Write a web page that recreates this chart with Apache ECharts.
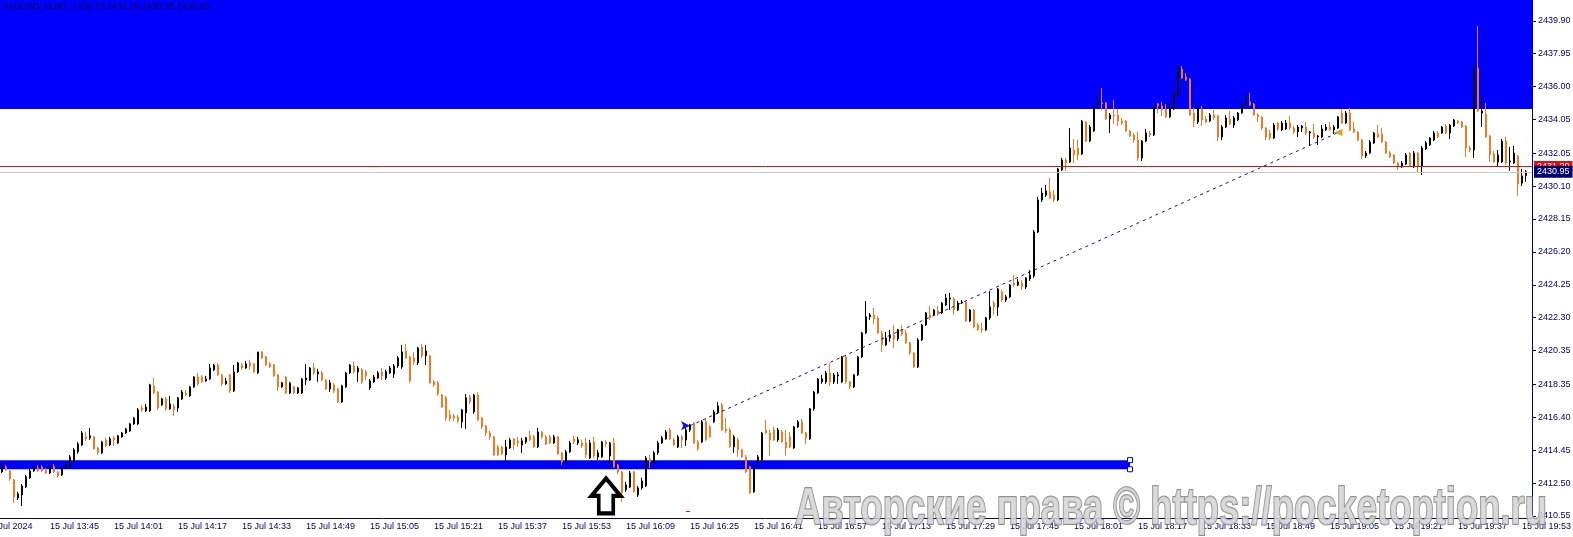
<!DOCTYPE html>
<html><head><meta charset="utf-8">
<script src="https://cdn.jsdelivr.net/npm/echarts@6/dist/echarts.min.js"></script>
<style>html,body{margin:0;padding:0;background:#fff;}#c{width:1573px;height:537px;}</style>
</head><body><div id="c"></div>
<script>
// ---- data (XAUUSD_m, M1, 15 Jul 2024) ----
const firstMinute = '13:29';       // first category (partly off-screen)
const lastMinute = '19:55';
const firstCandle = '13:33';
const dateLabel = '15 Jul 2024';
const dayPrefix = '15 Jul ';
const titleText = 'XAUUSD_m,M1  2430.73 2431.05 2430.35 2430.95';

const opens = [
2413.16,2413.46,2413.22,2412.69,2411.62,2411.80,2412.27,2412.81,2413.22,2413.40,
2413.46,2413.28,2413.10,2413.51,2413.16,2412.98,2413.40,2413.46,2413.81,2414.35,
2414.76,2415.24,2415.18,2415.24,2414.58,2414.29,2415.06,2414.76,2415.18,2414.88,
2415.24,2415.47,2415.59,2416.01,2416.01,2416.95,2416.78,2416.78,2418.26,2417.90,
2417.13,2417.49,2416.90,2417.07,2416.95,2417.49,2417.84,2417.67,2418.20,2418.79,
2418.79,2418.55,2418.67,2419.21,2419.50,2418.91,2418.38,2418.91,2417.96,2419.09,
2419.50,2419.32,2419.62,2419.56,2419.03,2420.27,2419.98,2419.56,2419.50,2418.91,
2418.20,2418.79,2417.84,2418.20,2417.84,2417.84,2418.61,2418.61,2419.32,2418.97,
2419.03,2418.61,2418.08,2418.32,2418.08,2417.31,2418.20,2419.03,2419.44,2419.09,
2419.21,2419.09,2418.14,2418.50,2418.73,2419.09,2418.73,2419.03,2418.97,2419.44,
2419.38,2420.33,2419.98,2419.92,2419.62,2420.57,2420.04,2420.04,2418.50,2418.44,
2417.72,2417.55,2416.54,2416.48,2416.42,2416.13,2416.66,2417.61,2416.72,2417.72,
2416.36,2415.89,2415.47,2415.24,2414.64,2414.64,2414.17,2414.58,2415.12,2415.00,
2414.76,2414.94,2415.30,2415.24,2414.64,2415.53,2415.24,2415.24,2414.88,2415.24,
2414.29,2413.75,2414.35,2415.12,2414.88,2414.88,2414.88,2413.99,2414.94,2414.05,
2414.05,2414.94,2414.11,2414.88,2413.57,2413.16,2412.10,2412.27,2413.16,2411.80,
2412.21,2412.33,2413.93,2413.69,2414.29,2414.88,2415.12,2415.65,2415.06,2414.64,
2415.24,2415.06,2415.65,2416.07,2414.94,2414.94,2416.13,2415.83,2416.13,2416.66,
2417.13,2415.71,2415.65,2414.64,2415.06,2414.47,2414.05,2413.46,2411.98,2413.69,
2413.87,2415.65,2415.47,2415.65,2415.06,2415.53,2414.94,2415.24,2414.58,2415.83,
2416.13,2415.47,2415.12,2416.90,2417.84,2418.50,2418.50,2419.03,2418.50,2418.85,
2418.50,2419.98,2418.50,2418.20,2418.91,2419.98,2421.40,2422.35,2422.47,2422.29,
2421.40,2420.69,2421.10,2421.28,2421.04,2421.58,2421.40,2420.81,2420.21,2419.38,
2420.98,2421.87,2422.47,2422.47,2422.70,2422.58,2423.06,2423.41,2423.41,2422.76,
2423.17,2423.23,2422.11,2422.76,2421.87,2421.64,2421.58,2422.29,2423.17,2422.94,
2423.83,2423.35,2423.53,2424.36,2424.24,2424.36,2424.12,2424.60,2424.77,2427.38,
2429.28,2429.57,2429.75,2429.57,2429.28,2431.06,2431.65,2431.53,2432.24,2432.36,
2432.00,2433.90,2432.77,2433.37,2434.91,2435.03,2435.03,2434.08,2434.32,2434.32,
2433.96,2433.96,2433.37,2433.13,2432.83,2431.77,2432.77,2433.25,2433.13,2434.97,
2434.85,2434.67,2434.20,2434.67,2435.50,2437.04,2436.57,2436.45,2434.43,2433.90,
2434.67,2434.08,2433.96,2434.32,2434.26,2433.01,2433.60,2434.08,2433.72,2434.02,
2434.43,2434.91,2435.09,2434.97,2434.32,2434.20,2433.54,2433.25,2432.95,2433.84,
2433.43,2433.49,2433.84,2433.54,2433.31,2433.54,2433.60,2433.25,2433.25,2433.01,
2433.01,2433.43,2433.60,2433.43,2433.54,2434.43,2433.84,2434.43,2433.49,2433.31,
2432.83,2431.89,2432.06,2432.66,2433.19,2433.19,2432.71,2432.06,2431.95,2431.47,
2431.24,2431.41,2432.06,2431.24,2432.06,2431.24,2432.30,2432.54,2432.83,2433.25,
2433.25,2433.66,2433.25,2433.66,2433.96,2433.90,2433.66,2432.36,2432.24,2437.10,
2434.43,2434.38,2433.07,2432.00,2431.53,2431.53,2432.77,2431.53,2431.47,2431.89,
2430.28,2430.73];

const closes = [
2413.46,2413.28,2412.75,2411.68,2411.86,2412.33,2412.87,2413.22,2413.46,2413.22,
2413.22,2413.10,2413.51,2413.16,2412.92,2413.46,2413.57,2414.05,2414.47,2414.82,
2415.47,2415.12,2415.30,2414.53,2414.29,2414.94,2414.70,2415.12,2415.06,2415.30,
2415.47,2415.71,2416.01,2416.36,2416.84,2416.84,2417.01,2418.32,2417.84,2416.95,
2417.49,2416.90,2417.19,2416.84,2417.55,2417.90,2417.72,2418.20,2418.79,2418.38,
2418.50,2418.67,2419.32,2419.50,2418.91,2418.38,2418.55,2417.96,2419.09,2419.62,
2419.32,2419.56,2419.44,2419.09,2420.27,2419.92,2419.50,2419.38,2418.85,2418.20,
2418.44,2417.84,2418.44,2417.84,2418.14,2418.67,2418.73,2419.32,2419.03,2419.09,
2418.61,2418.08,2418.44,2417.96,2417.31,2418.26,2419.03,2419.50,2419.09,2419.32,
2418.50,2418.85,2418.55,2418.79,2419.03,2418.85,2419.09,2419.32,2419.44,2419.92,
2420.27,2419.92,2418.55,2419.68,2420.51,2420.04,2420.33,2418.44,2418.32,2417.78,
2417.01,2416.36,2416.30,2416.36,2416.18,2416.84,2417.55,2417.31,2417.72,2416.24,
2415.83,2415.47,2415.24,2414.17,2414.17,2414.23,2414.64,2415.06,2414.76,2414.88,
2415.00,2415.18,2415.06,2414.64,2415.53,2415.24,2414.82,2414.88,2415.24,2414.23,
2413.75,2414.35,2414.88,2414.94,2415.06,2414.70,2414.17,2414.88,2414.11,2414.29,
2414.94,2414.82,2414.88,2413.46,2413.16,2411.92,2412.39,2413.10,2411.98,2412.21,
2412.63,2413.99,2413.75,2414.29,2414.88,2415.18,2415.53,2415.12,2414.76,2415.24,
2415.06,2415.65,2415.95,2414.88,2414.53,2416.13,2415.06,2415.24,2416.72,2417.07,
2415.65,2415.59,2414.64,2415.24,2414.47,2414.05,2413.16,2411.92,2413.46,2414.05,
2415.47,2415.47,2415.06,2415.06,2415.65,2414.94,2414.58,2414.64,2415.83,2416.13,
2415.47,2415.18,2416.90,2417.90,2418.67,2418.67,2419.03,2418.50,2418.91,2418.91,
2419.98,2418.50,2418.20,2418.91,2419.98,2421.40,2422.35,2422.47,2422.23,2421.40,
2420.69,2421.10,2421.28,2421.04,2421.58,2421.34,2420.81,2420.21,2419.38,2420.98,
2421.87,2422.58,2422.29,2422.76,2422.52,2423.17,2423.47,2423.47,2422.76,2423.17,
2423.23,2422.11,2422.76,2421.75,2421.58,2421.58,2422.29,2422.94,2422.94,2424.00,
2423.35,2423.53,2424.24,2424.24,2424.42,2424.12,2424.66,2424.83,2427.38,2429.28,
2429.69,2429.81,2429.40,2429.28,2431.12,2431.65,2431.47,2432.36,2431.95,2431.95,
2433.96,2432.77,2433.60,2434.79,2434.97,2434.97,2434.08,2434.32,2434.26,2433.96,
2433.84,2433.37,2433.07,2432.83,2431.77,2432.77,2433.25,2433.13,2434.85,2434.85,
2434.61,2434.20,2434.73,2435.62,2437.04,2436.51,2436.39,2434.32,2433.96,2434.73,
2434.02,2433.90,2434.32,2434.14,2433.01,2433.60,2434.14,2433.78,2434.14,2434.43,
2434.91,2435.09,2434.91,2434.32,2434.20,2433.54,2433.01,2432.95,2433.72,2433.49,
2433.84,2433.84,2433.54,2433.31,2433.60,2433.66,2433.25,2433.31,2433.01,2433.07,
2433.49,2433.60,2433.43,2433.60,2434.20,2433.84,2434.43,2433.43,2433.31,2432.83,
2431.89,2432.06,2432.71,2433.25,2433.01,2432.71,2432.06,2431.83,2431.47,2431.24,
2431.47,2431.95,2431.30,2432.06,2431.24,2432.36,2432.66,2432.95,2433.25,2433.01,
2433.60,2433.25,2433.72,2434.02,2433.84,2433.60,2432.36,2432.24,2436.98,2434.55,
2434.55,2433.01,2431.95,2431.53,2431.95,2432.77,2431.47,2431.59,2432.06,2430.23,
2430.70,2430.95];

const lows = [
2413.10,2413.22,2412.63,2411.32,2411.50,2411.14,2412.21,2412.75,2413.16,2413.16,
2413.16,2413.04,2413.04,2413.10,2412.81,2412.92,2413.34,2413.40,2413.75,2414.23,
2414.70,2415.00,2415.06,2414.47,2414.17,2414.23,2414.64,2414.70,2414.70,2414.82,
2415.18,2415.41,2415.53,2415.95,2415.95,2416.72,2416.72,2416.72,2417.78,2416.84,
2417.07,2416.78,2416.84,2416.48,2416.72,2417.43,2417.67,2417.61,2418.14,2418.26,
2418.44,2418.50,2418.61,2419.15,2418.85,2418.26,2418.32,2417.84,2417.90,2419.03,
2419.21,2419.27,2419.21,2419.03,2418.97,2419.86,2419.44,2419.32,2418.79,2417.96,
2418.14,2417.78,2417.78,2417.78,2417.78,2417.78,2418.32,2418.55,2418.91,2418.50,
2418.55,2418.02,2417.90,2417.84,2417.25,2417.25,2418.14,2418.97,2418.97,2418.50,
2418.38,2418.61,2418.02,2418.44,2418.67,2418.61,2418.61,2418.97,2418.73,2419.32,
2419.27,2419.86,2418.44,2419.50,2419.50,2419.92,2419.50,2418.38,2418.20,2417.67,
2416.95,2416.18,2416.18,2416.18,2416.07,2415.77,2415.71,2417.19,2416.60,2416.18,
2415.71,2415.30,2415.06,2414.11,2414.11,2414.17,2413.81,2414.53,2414.47,2414.64,
2414.29,2414.82,2415.00,2414.58,2414.58,2415.12,2414.76,2414.82,2414.82,2414.17,
2413.57,2413.69,2414.29,2414.82,2414.76,2414.58,2413.99,2413.93,2413.99,2413.87,
2413.99,2414.64,2413.63,2413.40,2413.04,2411.38,2411.98,2412.21,2411.92,2411.68,
2412.10,2412.27,2413.40,2413.57,2414.17,2414.82,2415.06,2415.06,2414.70,2414.58,
2414.58,2414.70,2415.53,2414.82,2414.41,2414.88,2415.00,2415.18,2416.07,2416.60,
2415.59,2415.47,2414.58,2414.29,2414.05,2413.99,2413.10,2411.86,2411.92,2413.51,
2413.81,2415.41,2414.11,2415.00,2414.94,2414.88,2414.11,2414.58,2414.53,2415.77,
2415.41,2414.82,2415.06,2416.78,2417.78,2418.38,2418.38,2418.26,2418.38,2418.38,
2418.44,2418.38,2418.08,2418.14,2418.85,2419.92,2421.34,2422.17,2421.93,2421.34,
2420.27,2420.63,2420.87,2420.51,2420.92,2421.22,2420.75,2420.10,2419.32,2419.32,
2420.92,2421.81,2422.17,2422.41,2422.41,2422.52,2423.00,2422.76,2422.47,2422.70,
2423.12,2422.05,2422.05,2421.69,2421.52,2421.40,2421.52,2422.17,2422.47,2422.41,
2423.23,2423.23,2423.47,2424.12,2424.18,2423.95,2424.00,2424.48,2424.66,2427.32,
2429.16,2429.46,2429.34,2429.16,2429.22,2431.00,2431.00,2431.47,2431.47,2431.65,
2431.95,2432.71,2432.71,2433.31,2434.73,2434.61,2434.02,2433.25,2433.78,2433.66,
2433.72,2433.31,2433.01,2432.66,2431.59,2431.59,2432.71,2433.01,2433.07,2434.43,
2434.26,2434.14,2434.14,2434.61,2435.44,2436.45,2436.33,2434.26,2433.60,2433.78,
2433.66,2433.84,2433.90,2434.02,2432.77,2432.83,2433.54,2433.72,2433.54,2433.96,
2434.38,2434.79,2434.85,2434.26,2433.90,2433.43,2432.83,2432.83,2432.89,2433.37,
2433.37,2433.43,2433.43,2433.19,2433.01,2433.31,2433.13,2432.48,2432.89,2432.54,
2432.95,2433.37,2433.37,2433.19,2433.49,2433.78,2433.78,2433.37,2433.25,2432.77,
2431.71,2431.77,2432.00,2432.60,2432.95,2432.66,2432.00,2431.77,2431.41,2431.06,
2431.18,2431.36,2431.24,2431.18,2430.88,2430.76,2432.24,2432.48,2432.77,2432.95,
2433.19,2433.19,2432.89,2433.60,2433.78,2433.54,2431.83,2432.12,2431.77,2434.49,
2433.60,2432.95,2431.53,2431.47,2431.24,2431.47,2431.36,2431.00,2431.41,2429.52,
2430.11,2430.35];

const highs = [
2413.69,2413.57,2413.28,2412.75,2411.98,2412.45,2412.98,2413.34,2413.51,2413.57,
2413.57,2413.40,2413.57,2413.63,2413.22,2413.51,2413.69,2414.17,2414.58,2414.94,
2415.59,2415.53,2415.77,2415.30,2414.64,2415.00,2415.18,2415.24,2415.30,2415.36,
2415.53,2415.77,2416.07,2416.42,2416.95,2417.13,2417.19,2418.38,2418.73,2417.96,
2417.55,2417.61,2417.67,2417.19,2417.61,2418.02,2418.02,2418.26,2418.85,2419.03,
2418.91,2418.85,2419.56,2419.56,2419.62,2418.97,2418.73,2418.97,2419.50,2419.68,
2419.62,2419.74,2419.80,2419.62,2420.27,2420.33,2420.04,2419.68,2419.56,2418.97,
2418.50,2418.85,2418.50,2418.26,2418.20,2418.73,2419.56,2419.38,2419.62,2419.27,
2419.15,2418.67,2418.61,2418.44,2418.14,2418.32,2419.09,2419.56,2419.68,2419.44,
2419.32,2419.21,2418.67,2418.91,2419.15,2419.32,2419.21,2419.44,2419.56,2420.04,
2420.69,2420.75,2420.04,2420.27,2420.57,2420.75,2420.69,2420.10,2418.61,2418.55,
2417.78,2417.67,2416.84,2416.60,2416.54,2416.90,2417.78,2417.72,2417.78,2417.90,
2416.42,2415.95,2415.59,2415.30,2414.76,2414.70,2415.06,2415.18,2415.18,2415.24,
2415.18,2415.24,2415.59,2415.36,2415.77,2415.59,2415.36,2415.36,2415.36,2415.30,
2414.35,2414.47,2415.00,2415.30,2415.24,2415.06,2415.18,2415.06,2415.24,2414.47,
2415.00,2415.06,2414.94,2415.18,2413.63,2413.22,2412.57,2413.22,2413.22,2412.33,
2412.81,2414.11,2414.17,2414.41,2415.00,2415.30,2415.65,2415.77,2415.18,2415.36,
2415.36,2415.95,2416.01,2416.13,2415.06,2416.24,2416.36,2415.95,2416.84,2417.31,
2417.25,2416.36,2415.77,2415.36,2415.18,2414.53,2414.17,2413.51,2413.51,2414.17,
2415.53,2416.24,2415.65,2415.83,2415.77,2415.65,2415.65,2415.53,2415.89,2416.24,
2416.30,2415.53,2416.95,2417.96,2418.73,2418.91,2419.15,2419.62,2419.03,2419.09,
2420.04,2420.10,2418.55,2418.97,2420.04,2421.46,2423.29,2422.58,2422.88,2422.41,
2421.52,2421.46,2421.58,2421.87,2421.64,2421.87,2421.58,2420.87,2420.27,2421.10,
2421.93,2422.64,2423.00,2422.82,2423.00,2423.23,2423.71,2423.77,2423.53,2423.29,
2423.35,2423.29,2422.82,2422.82,2421.99,2421.99,2422.35,2423.88,2423.29,2424.06,
2423.95,2423.65,2424.30,2424.83,2424.60,2424.54,2424.71,2425.13,2427.50,2429.46,
2429.99,2430.17,2430.58,2429.87,2431.18,2431.77,2431.77,2433.54,2432.89,2432.83,
2434.02,2433.96,2433.72,2434.85,2435.44,2435.92,2435.09,2434.43,2435.20,2434.67,
2434.14,2434.02,2433.43,2433.25,2433.31,2432.83,2433.49,2433.37,2434.91,2435.03,
2435.09,2434.97,2435.03,2435.74,2437.34,2437.22,2436.80,2436.51,2434.73,2434.85,
2434.85,2434.26,2434.43,2434.61,2434.32,2433.72,2434.32,2434.55,2434.26,2434.49,
2435.03,2435.56,2435.62,2435.03,2434.43,2434.26,2433.60,2433.43,2433.84,2433.90,
2433.96,2434.02,2434.26,2433.66,2433.72,2433.72,2433.90,2433.37,2433.78,2433.13,
2433.72,2433.78,2433.90,2433.72,2434.26,2434.67,2434.55,2434.73,2433.90,2433.37,
2432.89,2432.18,2432.83,2433.31,2433.72,2433.54,2432.77,2432.18,2432.00,2431.53,
2431.59,2432.06,2432.12,2432.18,2432.12,2432.48,2432.77,2433.01,2433.37,2433.37,
2433.66,2433.78,2433.78,2434.08,2434.02,2433.96,2433.72,2432.48,2437.40,2439.59,
2435.32,2435.03,2433.13,2432.18,2432.24,2432.89,2433.01,2432.42,2432.48,2431.95,
2431.12,2431.05];

const priceTicks = [2410.55,2412.50,2414.45,2416.40,2418.35,2420.35,2422.30,2424.25,
  2426.20,2428.15,2430.10,2432.05,2434.05,2436.00,2437.95,2439.90];
const priceMin = 2410.43, priceMax = 2441.13;
const askPrice = 2431.29, bidPrice = 2430.95;
const upperZone = [2434.67, 2441.13];
const lowerBand = [2413.32, 2413.86];
const lowerBandEnd = '18:15';
const trendFrom = ['16:25', 2415.90], trendTo = ['19:07', 2433.27];
const arrowPoint = ['16:04', 2411.74];
const smallDash = [['16:24', 2410.85], ['16:25', 2410.85]];
const watermark = 'Авторские права © https://pocketoption.ru';

// ---- build ----
function toMin(s){const p=s.split(':');return +p[0]*60+ +p[1];}
function toStr(m){return String(Math.floor(m/60)).padStart(2,'0')+':'+String(m%60).padStart(2,'0');}
const categories=[];
for(let m=toMin(firstMinute);m<=toMin(lastMinute);m++) categories.push(toStr(m));
const offset = categories.indexOf(firstCandle);
const candleData = categories.map((t,k)=>{
  const i=k-offset;
  if(i<0||i>=opens.length) return '-';
  return [opens[i],closes[i],lows[i],highs[i]];
});

const FONT='"Liberation Sans", Arial, sans-serif';
const NAVY='#00006e';
const ORANGE='#f07a22';
const BLUE='#0000ff';

const chart = echarts.init(document.getElementById('c'), null, {renderer:'canvas'});

const cv=document.createElement('canvas').getContext('2d');
const wmFont='bold 52px "Liberation Sans", Arial, sans-serif';
cv.font=wmFont;
const wmScale = 752 / cv.measureText(watermark).width;

chart.setOption({
  animation:false,
  backgroundColor:'#ffffff',
  title:{text:titleText,left:2,top:2,padding:0,
    textStyle:{fontSize:9,fontWeight:'normal',color:'#000040',fontFamily:FONT}},
  grid:{left:-16,right:41,top:0,bottom:19,containLabel:false,outerBoundsMode:'none'},
  xAxis:{type:'category',data:categories,boundaryGap:true,
    axisLine:{lineStyle:{color:NAVY,width:1}},
    axisTick:{alignWithLabel:true,length:4,interval:(i)=>i%16===0,lineStyle:{color:NAVY}},
    axisLabel:{interval:(i)=>i%16===0,align:'left',margin:4,fontSize:9,color:NAVY,fontFamily:FONT,
      hideOverlap:false,formatter:(v,i)=> i===0 ? dateLabel : dayPrefix+v},
    splitLine:{show:false}},
  yAxis:{type:'value',position:'right',min:priceMin,max:priceMax,
    axisLine:{show:true,lineStyle:{color:NAVY,width:1}},
    axisTick:{show:true,length:4,customValues:priceTicks,lineStyle:{color:NAVY}},
    axisLabel:{customValues:priceTicks,margin:6,fontSize:9,color:NAVY,fontFamily:FONT,
      formatter:(v)=>v.toFixed(2)},
    splitLine:{show:false}},
  series:[
    {type:'line',data:[],z:1,clip:false,silent:true,
      markArea:{silent:true,itemStyle:{color:BLUE,opacity:1},
        data:[
          [{yAxis:upperZone[0]},{yAxis:upperZone[1]}],
          [{xAxis:categories[0],yAxis:lowerBand[1]},{xAxis:lowerBandEnd,yAxis:lowerBand[0]}]
        ]},
      markLine:{silent:true,symbol:['none','none'],
        data:[
          {yAxis:askPrice,lineStyle:{color:'#e01010',width:1,type:'solid'},
            label:{show:true,position:'end',distance:2,formatter:askPrice.toFixed(2),color:'#fff',
              backgroundColor:'#e01010',padding:[1,3,0,3],fontSize:9,fontFamily:FONT}},
          {yAxis:bidPrice,lineStyle:{color:'#c8c8c8',width:1,type:'solid'},
            label:{show:true,position:'end',distance:2,formatter:bidPrice.toFixed(2),color:'#fff',
              backgroundColor:'#000070',padding:[2,3,1,3],fontSize:9,fontFamily:FONT}}
        ]}
    },
    {type:'candlestick',data:candleData,z:3,barWidth:2,
      itemStyle:{color:'#000000',color0:ORANGE,borderColor:'#000000',borderColor0:ORANGE,borderWidth:1}},
    {type:'line',data:[],z:5,clip:false,silent:true,
      markLine:{silent:true,symbol:['none','none'],label:{show:false},
        data:[
          [{coord:trendFrom},{coord:trendTo,lineStyle:{color:'#10108a',width:1,type:[3,4]}}],
          [{coord:smallDash[0]},{coord:smallDash[1],lineStyle:{color:'#e01010',width:1,type:'solid'}}]
        ]},
      markPoint:{silent:true,label:{show:false},
        data:[
          {coord:arrowPoint,symbol:'path://M16,0 L32,20 L24,20 L24,40 L8,40 L8,20 L0,20 Z',
            symbolSize:[29,35],symbolKeepAspect:false,
            itemStyle:{color:'#ffffff',borderColor:'#000000',borderWidth:4}},
          {coord:trendFrom,symbol:'arrow',symbolSize:[7,9],symbolRotate:-90,itemStyle:{color:'#1010e0'}},
          {coord:trendTo,symbol:'triangle',symbolSize:[7,9],symbolRotate:90,itemStyle:{color:'#d4a52a'}},
          {coord:[lowerBandEnd,lowerBand[1]],symbol:'rect',symbolSize:5,itemStyle:{color:'#fff',borderColor:BLUE,borderWidth:1}},
          {coord:[lowerBandEnd,lowerBand[0]],symbol:'rect',symbolSize:5,itemStyle:{color:'#fff',borderColor:BLUE,borderWidth:1}}
        ]}
    }
  ],
  graphic:[
    {type:'text',x:795,y:510,scaleX:wmScale,z:100,silent:true,
      style:{text:watermark,font:wmFont,fill:'rgba(212,212,212,0.85)',stroke:'rgba(125,125,125,0.85)',lineWidth:2,
        verticalAlign:'middle',align:'left'}}
  ]
});
</script></body></html>
